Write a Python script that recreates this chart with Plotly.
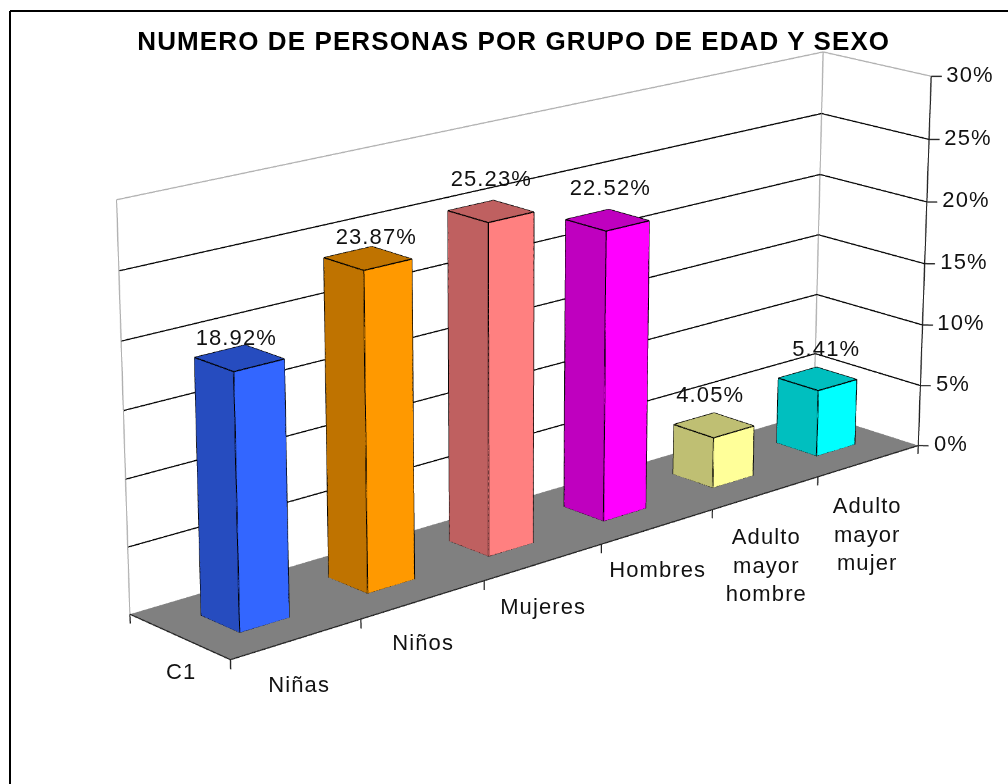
import plotly.graph_objects as go

categories = ["Niñas", "Niños", "Mujeres", "Hombres", "Adulto<br>mayor<br>hombre", "Adulto<br>mayor<br>mujer"]
values = [18.92, 23.87, 25.23, 22.52, 4.05, 5.41]
bright = ["#3366FF", "#FF9900", "#FF8080", "#FF00FF", "#FFFF99", "#00FFFF"]
dark = ["#264CBF", "#BF7300", "#BF6060", "#BF00BF", "#BFBF73", "#00BFBF"]
z_ticks = [0, 5, 10, 15, 20, 25, 30]
TITLE = "NUMERO DE PERSONAS POR GRUPO DE EDAD Y SEXO"

# label nudges in pixels
value_dx = [-3, 9, 1, 3, -4, 9]
value_dy = [21, 22, 33, 33, 31, 30]
cat_dx = [2, 0, -1, 0, 1, -2]
cat_dy = [-45, -43, -44, -43, -72, -73]

# The scene is four window sizes wide, which gives the long lens of the original;
# the page then shows the middle of it.
SCALE = 4
PAGE_W, PAGE_H = 1008, 784
W, H = PAGE_W * SCALE, PAGE_H * SCALE
OFF_X, OFF_Y = (W - PAGE_W) / 2, (H - PAGE_H) / 2
EYE = dict(x=-5.2146, y=-5.7129, z=2.3324)
CENTER = dict(x=-0.1106, y=0.0219, z=-0.115)
AX, AY, AZ = 2.0, 0.3331, 0.8702
FONT = "Liberation Sans"
TXT = "#111111"
LO, HI = 0.31, 0.69

fig = go.Figure()

def quad_mesh(x, y, z, faces, colors, name):
    i, j, k, fc = [], [], [], []
    for (a, b, c, d), col in zip(faces, colors):
        i += [a, a]; j += [b, c]; k += [c, d]; fc += [col, col]
    fig.add_trace(go.Mesh3d(x=x, y=y, z=z, i=i, j=j, k=k, facecolor=fc, flatshading=True, name=name,
                            lighting=dict(ambient=1, diffuse=0, specular=0, fresnel=0), hoverinfo="skip", showscale=False))

def lines(segs, color, width):
    xs, ys, zs = [], [], []
    for a, b in segs:
        xs += [a[0], b[0], None]; ys += [a[1], b[1], None]; zs += [a[2], b[2], None]
    fig.add_trace(go.Scatter3d(x=xs, y=ys, z=zs, mode="lines", line=dict(color=color, width=width), hoverinfo="skip", showlegend=False))

n = len(categories)
quad_mesh([0, n, n, 0], [0, 0, 1, 1], [0, 0, 0, 0], [(0, 1, 2, 3)], ["#808080"], "floor")

box_faces = [(0, 1, 2, 3), (4, 5, 6, 7), (0, 1, 5, 4), (1, 2, 6, 5), (2, 3, 7, 6), (3, 0, 4, 7)]
for c, (v, b, d) in enumerate(zip(values, bright, dark)):
    x0, x1 = c + LO, c + HI
    xs = [x0, x1, x1, x0] * 2
    ys = [LO, LO, HI, HI] * 2
    zs = [0] * 4 + [v] * 4
    quad_mesh(xs, ys, zs, box_faces, [d, d, b, b, b, d], categories[c])
    P = list(zip(xs, ys, zs))
    segs = [(P[a], P[(a + 1) % 4]) for a in range(4)] + [(P[a + 4], P[(a + 1) % 4 + 4]) for a in range(4)] + [(P[a], P[a + 4]) for a in range(4)]
    lines(segs, "#000000", 2)

grid = []
for t in z_ticks[1:-1]:
    grid += [((0, 1, t), (n, 1, t)), ((n, 1, t), (n, 0, t))]
lines(grid, "#000000", 2)
top = z_ticks[-1]
lines([((0, 1, 0), (0, 1, top)), ((n, 1, 0), (n, 1, top)), ((0, 1, top), (n, 1, top)), ((n, 1, top), (n, 0, top))], "#B0B0B0", 2)
axes = [((0, 1, 0), (0, 0, 0)), ((0, 0, 0), (n, 0, 0)), ((n, 0, 0), (n, 0, top))]
axes += [((n, 0, t), (n + 0.05, -0.05, t)) for t in z_ticks]
axes += [((c, 0, 0), (c, 0, -0.7)) for c in range(n + 1)] + [((0, 1, 0), (0, 1, -0.7))]
lines(axes, "#222222", 2)

ann = []
f22 = dict(family=FONT, size=22, color=TXT)
for t in z_ticks:
    ann.append(dict(x=n, y=0, z=t, text=f"{t}%", showarrow=False, xanchor="left", xshift=15, yshift=2, font=f22))
for c, (v, lab) in enumerate(zip(values, categories)):
    ann.append(dict(x=c + 0.5, y=0.5, z=v, text=f"{v:.2f}%", showarrow=False, xshift=value_dx[c], yshift=value_dy[c], font=f22))
    ann.append(dict(x=c + 0.5, y=0, z=0, text=lab, showarrow=False, xshift=cat_dx[c], yshift=cat_dy[c], font=f22))
ann.append(dict(x=0, y=0.5, z=0, text="C1", showarrow=False, xshift=2, yshift=-35, font=f22))

pad = (1, 1, 5)
px = lambda p: (p + OFF_X) / W
py = lambda p: 1 - (p + OFF_Y) / H
fig.update_layout(
    width=W, height=H, margin=dict(l=0, r=0, t=0, b=0), paper_bgcolor="white", showlegend=False,
    annotations=[dict(text=f"<b>{TITLE}</b>", xref="paper", yref="paper", x=px(514.5), y=py(41), showarrow=False,
                      font=dict(family=FONT, size=26, color="black"))],
    scene=dict(
        domain=dict(x=[0, 1], y=[0, 1]),
        xaxis=dict(range=[-pad[0], n + pad[0]], visible=False),
        yaxis=dict(range=[-pad[1], 1 + pad[1]], visible=False),
        zaxis=dict(range=[-pad[2], top + pad[2]], visible=False),
        aspectmode="manual",
        aspectratio=dict(x=AX * (n + 2 * pad[0]) / n, y=AY * (1 + 2 * pad[1]), z=AZ * (top + 2 * pad[2]) / top),
        camera=dict(eye=EYE, center=CENTER, up=dict(x=0, y=0, z=1)),
        annotations=ann,
    ),
    shapes=[
        dict(type="line", xref="paper", yref="paper", x0=px(10), x1=px(10), y0=py(11), y1=py(784), line=dict(color="black", width=2)),
        dict(type="line", xref="paper", yref="paper", x0=px(10), x1=px(1008), y0=py(11), y1=py(11), line=dict(color="black", width=2)),
    ],
)
post = f"""
document.documentElement.style.overflow='hidden';
document.body.style.overflow='hidden';
document.body.style.margin='0';
var gd=document.getElementById('{{plot_id}}');
gd.style.position='absolute';
gd.style.left='{-OFF_X}px';
gd.style.top='{-OFF_Y}px';
var st=document.createElement('style');
st.textContent='svg text{{letter-spacing:1.1px}}';
document.head.appendChild(st);
"""
fig.write_html("out.html", post_script=post, config=dict(displayModeBar=False))
